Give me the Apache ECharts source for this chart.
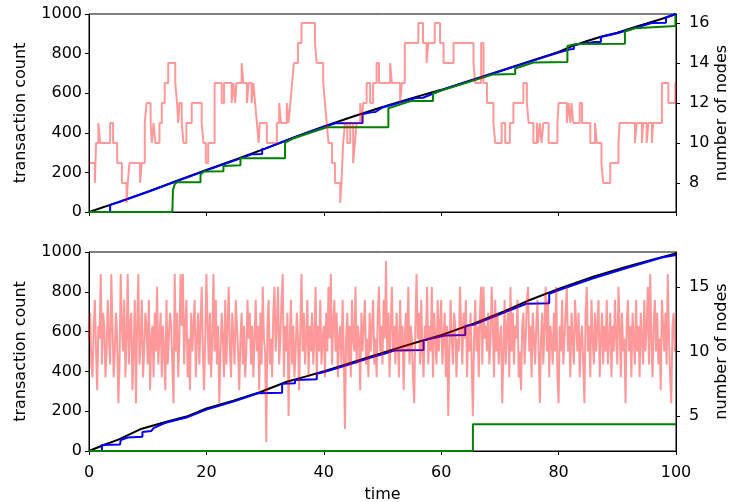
<!DOCTYPE html>
<html>
<head>
<meta charset="utf-8">
<script src="https://cdn.jsdelivr.net/npm/echarts@6/dist/echarts.min.js"></script>
<style>
  html, body { margin: 0; padding: 0; background: #fff; }
  #chart { width: 729px; height: 502px; }
</style>
</head>
<body>
<div id="chart"></div>
<script>
// ---- top panel ----
const topBlackT = [0, 5, 10, 15, 20, 25, 30, 35, 40, 45, 50, 55, 60, 65, 70, 75, 80, 82.5, 85, 87.5, 90, 92.5, 95, 97.5, 100];
const topBlackV = [0, 50, 103, 158, 212, 265, 320, 378, 432, 482, 530, 575, 617, 665, 712, 760, 808, 840, 865, 888, 905, 930, 952, 975, 1000];

const topBlueT = [0, 3.6, 3.6, 5, 10, 15, 20, 25, 27.8, 29.5, 29.5, 30, 35, 40, 42, 46.6, 46.6, 48, 48.8, 48.8, 50, 55.7, 56.9, 56.9, 60, 65, 70, 75, 80, 82, 82.6, 82.6, 85.9, 87.2, 87.2, 90, 96, 98.3, 98.3, 100];
const topBlueV = [0, 0, 36, 49, 101, 156, 210, 262, 292, 293, 318, 320, 376, 430, 448, 450, 494, 504, 505, 512, 528, 576, 577, 587, 615, 663, 710, 758, 805, 822, 823, 844, 858, 859, 884, 903, 955, 956, 982, 1000];

const topGreenT = [0, 14.2, 14.3, 14.6, 15.0, 19.0, 19.0, 19.6, 22.9, 22.9, 25.8, 25.8, 33.4, 33.4, 35, 40.5, 51.0, 51.0, 54.8, 58.6, 58.6, 60, 68.9, 72.6, 72.6, 75.7, 81.5, 81.5, 83.0, 91.3, 91.3, 93, 99.9, 99.9];
const topGreenV = [0, 0, 110, 140, 150, 150, 190, 205, 206, 232, 236, 271, 272, 350, 374, 428, 428, 524, 560, 561, 600, 614, 695, 697, 725, 755, 757, 838, 848, 850, 912, 928, 940, 995];

const topNodesT = [0, 1.0, 1.2, 1.6, 1.9, 3.6, 4.1, 4.8, 5.6, 6.4, 6.6, 6.9, 8.7, 9.0, 9.5, 9.8, 10.5, 10.7, 11.0, 11.3,
  12.0, 12.4, 12.9, 13.5, 14.7, 15.0, 15.2, 15.4, 15.8, 16.1, 16.6, 17.5, 19.2, 19.5, 19.9, 20.3, 21.4, 22.6, 23.0, 24.3,
  24.6, 24.9, 25.1, 26.0, 26.3, 26.9, 27.2, 27.7, 28.0, 28.3, 28.6, 28.9, 29.1, 30.3, 32.0, 32.4, 32.7, 33.7, 34.0, 34.3,
  34.6, 34.9, 35.6, 36.2, 38.5, 38.8, 39.9, 40.2, 40.5, 40.8, 41.4, 41.9, 42.8, 43.0, 43.3, 43.6, 44.0, 44.5, 45.0, 45.3,
  45.6, 46.2, 46.5, 46.7, 47.3, 47.9, 48.4, 49.0, 49.4, 51.3, 51.6, 53.0, 53.3, 53.8, 56.1, 56.9, 57.5, 57.8, 58.9, 59.8,
  60.4, 62.1, 65.5, 65.8, 66.8, 67.2, 67.8, 68.9, 69.2, 70.3, 70.9, 71.7, 72.3, 74.0, 74.6, 74.9, 75.7, 76.3, 76.5, 76.8,
  77.1, 77.4, 78.3, 79.8, 80.0, 81.4, 81.7, 82.0, 82.2, 82.5, 83.6, 84.0, 85.4, 86.2, 86.5, 87.3, 87.6, 88.8, 90.2, 90.4,
  93.0, 93.3, 94.2, 94.4, 95.0, 95.3, 95.9, 96.1, 97.6, 98.7, 99.9, 100];
const topNodesV = [9, 8, 10, 11, 10, 11, 10, 9, 8, 7, 8, 9, 8, 9, 11, 12, 11, 10, 11, 10,
  11, 12, 13, 14, 13, 12, 11, 12, 11, 10, 11, 12, 11, 10, 9, 10, 13, 12, 13, 12,
  13, 12, 13, 14, 13, 12, 13, 12, 13, 12, 11, 10, 11, 10, 11, 12, 11, 12, 11, 12,
  13, 14, 15, 16, 15, 14, 13, 12, 11, 10, 9, 8, 7, 8, 10, 11, 10, 11, 9, 10,
  11, 12, 11, 12, 13, 12, 13, 14, 13, 14, 13, 12, 13, 15, 16, 15, 14, 15, 16, 15,
  14, 15, 14, 13, 15, 13, 12, 11, 10, 11, 10, 11, 12, 13, 12, 11, 10, 11, 10, 11,
  10, 11, 10, 11, 12, 11, 12, 11, 12, 11, 12, 11, 10, 11, 10, 9, 8, 9, 10, 11,
  10, 11, 10, 11, 10, 11, 10, 11, 13, 12, 13, 13];

// ---- bottom panel ----
const botBlackT = [0, 2.5, 5, 8.7, 13.2, 16.6, 20, 24.6, 29.1, 33.7, 37, 40.2, 44, 47.9, 52, 56, 60.1, 65.5, 70.6, 75.1, 80.2, 85.9, 91.6, 95.5, 100];
const botBlackV = [0, 30, 57, 109, 147, 173, 214, 253, 295, 348, 375, 402, 437, 474, 512, 548, 583, 640, 700, 759, 817, 876, 926, 958, 993];

const botBlueT = [0, 2.2, 2.2, 5.3, 5.4, 6.6, 9.1, 9.1, 10.6, 11.0, 12.5, 13.2, 16.6, 20, 24.6, 28.8, 32.9, 32.9, 35.1, 35.1, 38.8, 38.8, 40.2, 44, 47.9, 50.4, 52.0, 57.0, 57.0, 60.7, 64.1, 64.1, 65.5, 70.6, 74.5, 78.4, 78.4, 80.2, 85.9, 91.6, 97.6, 100];
const botBlueV = [0, 0, 30, 33, 55, 68, 72, 95, 100, 115, 135, 143, 168, 208, 248, 290, 293, 338, 340, 357, 360, 388, 398, 432, 468, 490, 505, 508, 556, 580, 583, 628, 634, 694, 740, 742, 790, 810, 868, 920, 972, 985];

const botGreenT = [0, 65.4, 65.4, 100];
const botGreenV = [0, 0, 134, 134];

// nodes sampled every 0.2 time units
const botNodesStep = 0.2;
const botNodesV = [
  11, 13, 9, 8, 12, 14, 10, 7, 12, 11,
  16, 9, 13, 12, 8, 10, 14, 11, 9, 16,
  12, 8, 10, 13, 11, 6, 9, 16, 12, 10,
  14, 8, 11, 16, 9, 12, 13, 7, 10, 14,
  6, 12, 16, 9, 11, 14, 8, 10, 13, 12,
  9, 14, 7, 11, 12, 8, 13, 10, 15, 9,
  11, 13, 8, 12, 10, 7, 14, 9, 11, 13,
  12, 9, 6, 16, 10, 13, 8, 11, 16, 12,
  16, 9, 12, 14, 8, 11, 7, 13, 10, 12,
  14, 8, 11, 13, 9, 12, 15, 10, 7, 11,
  16, 12, 9, 13, 8, 11, 16, 10, 14, 9,
  12, 6, 10, 13, 11, 8, 14, 9, 12, 15,
  10, 8, 13, 11, 9, 14, 12, 10, 7, 11,
  13, 9, 12, 8, 10, 14, 11, 13, 9, 12,
  8, 11, 14, 10, 12, 7, 13, 9, 15, 11,
  10, 3, 12, 14, 9, 11, 8, 13, 15, 10,
  12, 15, 9, 11, 14, 16, 8, 12, 10, 13,
  5, 11, 14, 9, 12, 8, 10, 13, 11, 7,
  12, 16, 10, 13, 9, 11, 14, 8, 12, 10,
  13, 9, 11, 15, 8, 12, 10, 14, 9, 11,
  12, 8, 13, 10, 15, 11, 16, 9, 12, 14,
  10, 13, 8, 11, 12, 9, 14, 10, 4, 11,
  13, 9, 12, 8, 14, 11, 10, 15, 9, 12,
  11, 7, 13, 10, 12, 14, 9, 11, 8, 13,
  10, 12, 14, 9, 11, 8, 13, 15, 10, 12,
  9, 14, 11, 17, 10, 13, 8, 12, 15, 10,
  12, 9, 13, 11, 8, 14, 10, 12, 7, 11,
  13, 10, 15, 9, 12, 11, 8, 6, 12, 16,
  11, 13, 9, 14, 10, 8, 12, 11, 15, 9,
  12, 10, 15, 8, 13, 11, 9, 14, 10, 12,
  14, 9, 11, 13, 8, 12, 5, 10, 14, 11,
  9, 13, 12, 8, 11, 10, 15, 12, 9, 13,
  11, 14, 8, 12, 10, 13, 9, 5, 11, 14,
  10, 12, 8, 13, 15, 9, 15, 11, 12, 10,
  13, 9, 11, 15, 12, 8, 14, 10, 13, 9,
  11, 12, 6, 10, 14, 9, 12, 13, 8, 15,
  10, 13, 9, 12, 11, 14, 8, 10, 7, 12,
  13, 9, 11, 14, 15, 10, 12, 8, 13, 11,
  9, 12, 14, 10, 6, 11, 13, 9, 12, 15,
  10, 14, 8, 12, 11, 9, 13, 10, 15, 8,
  6, 12, 10, 14, 9, 11, 13, 15, 10, 12,
  8, 13, 11, 9, 14, 12, 10, 13, 8, 11,
  12, 9, 6, 13, 15, 10, 12, 8, 14, 11,
  9, 13, 10, 12, 14, 8, 11, 13, 9, 12,
  10, 14, 9, 11, 13, 8, 12, 10, 14, 11,
  9, 15, 12, 8, 13, 10, 11, 6, 12, 14,
  10, 12, 8, 13, 11, 9, 14, 10, 12, 8,
  13, 11, 9, 14, 10, 12, 15, 9, 16, 11,
  8, 12, 14, 10, 13, 9, 11, 7, 14, 12,
  10, 13, 9, 16, 11, 8, 6, 12, 13, 10
];

const topNodeTicks = [8, 10, 12, 14, 16];
const botNodeTicks = [5, 10, 15];

function pairs(ts, vs) {
  return ts.map((t, i) => [t, vs[i]]);
}

const botNodesData = botNodesV.map((v, i) => [i * botNodesStep, v]);
botNodesData.push([100, botNodesV[botNodesV.length - 1]]);

const chart = echarts.init(document.getElementById('chart'));

const black = '#000';
const axisLine = { show: true, lineStyle: { color: black, width: 1 } };
const axisTick = { show: true, length: 4, lineStyle: { color: black, width: 1 } };
const labelStyle = { color: black, fontSize: 16, fontFamily: 'DejaVu Sans', formatter: v => String(v) };
const nameStyle = { color: black, fontSize: 16, fontFamily: 'DejaVu Sans' };

function xAxis(gridIndex, showLabels) {
  const ax = {
    type: 'value', gridIndex: gridIndex, min: 0, max: 100, interval: 20,
    axisLine: axisLine, axisTick: axisTick, splitLine: { show: false },
    axisLabel: Object.assign({ show: showLabels, margin: 14 }, labelStyle)
  };
  if (showLabels) {
    ax.name = 'time';
    ax.nameLocation = 'middle';
    ax.nameGap = 36;
    ax.nameMoveOverlap = false;
    ax.nameTextStyle = nameStyle;
  }
  return ax;
}

function countAxis(gridIndex) {
  return {
    type: 'value', gridIndex: gridIndex, position: 'left', min: 0, max: 1000, interval: 200,
    axisLine: axisLine, axisTick: axisTick, splitLine: { show: false },
    axisLabel: Object.assign({ margin: 7 }, labelStyle),
    name: 'transaction count', nameLocation: 'middle', nameGap: 60, nameRotate: 90,
    nameMoveOverlap: false,
    nameTextStyle: nameStyle
  };
}

function nodesAxis(gridIndex, min, max, ticks) {
  return {
    type: 'value', gridIndex: gridIndex, position: 'right', min: min, max: max,
    axisLine: axisLine,
    axisTick: Object.assign({ customValues: ticks }, axisTick),
    splitLine: { show: false },
    axisLabel: Object.assign({ margin: 13, customValues: ticks }, labelStyle),
    name: 'number of nodes', nameLocation: 'middle', nameGap: 38, nameRotate: 90,
    nameMoveOverlap: false,
    nameTextStyle: nameStyle
  };
}

function line(data, color, xi, yi, z, width, extra) {
  return Object.assign({
    type: 'line', data: data, xAxisIndex: xi, yAxisIndex: yi,
    showSymbol: false, symbol: 'none', z: z,
    lineStyle: { color: color, width: width }, itemStyle: { color: color },
    animation: false
  }, extra || {});
}

const nodesColor = 'rgba(255, 0, 0, 0.4)';

chart.setOption({
  animation: false,
  textStyle: { fontFamily: 'DejaVu Sans' },
  grid: [
    { left: 89, right: 53, top: 14, height: 198, show: true, borderColor: black, borderWidth: 1, containLabel: false, outerBoundsMode: 'none' },
    { left: 89, right: 53, top: 252, height: 199, show: true, borderColor: black, borderWidth: 1, containLabel: false, outerBoundsMode: 'none' }
  ],
  xAxis: [xAxis(0, false), xAxis(1, true)],
  yAxis: [
    countAxis(0),
    nodesAxis(0, 6.55, 16.45, topNodeTicks),
    countAxis(1),
    nodesAxis(1, 2.3, 17.7, botNodeTicks)
  ],
  series: [
    line(pairs(topBlackT, topBlackV), '#000000', 0, 0, 2, 2),
    line(pairs(topBlueT, topBlueV), '#0000ff', 0, 0, 3, 2),
    line(pairs(topGreenT, topGreenV), '#008000', 0, 0, 4, 2),
    line(pairs(topNodesT, topNodesV), nodesColor, 0, 1, 5, 2, { step: 'end' }),
    line(pairs(botBlackT, botBlackV), '#000000', 1, 2, 2, 2),
    line(pairs(botBlueT, botBlueV), '#0000ff', 1, 2, 3, 2),
    line(pairs(botGreenT, botGreenV), '#008000', 1, 2, 4, 2),
    line(botNodesData, nodesColor, 1, 3, 5, 2, { step: 'end' })
  ]
});
</script>
</body>
</html>
